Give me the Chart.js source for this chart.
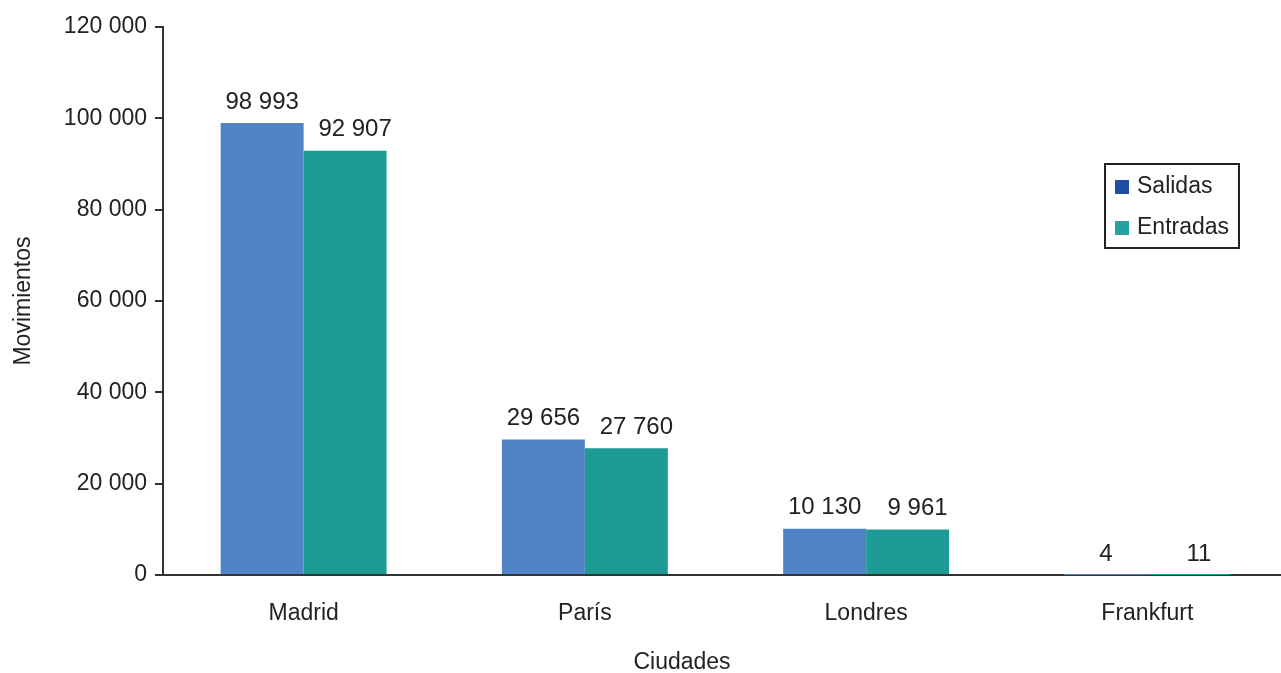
<!DOCTYPE html>
<html><head><meta charset="utf-8">
<script src="https://cdn.jsdelivr.net/npm/chart.js@4"></script>
<style>html,body{margin:0;padding:0;background:#fff;overflow:hidden}#wrap{width:1288px;height:673px;position:relative}</style>
</head><body><div id="wrap"><canvas id="c"></canvas></div>
<script>
const categories = ['Madrid', 'París', 'Londres', 'Frankfurt'];
const salidas = [98993, 29656, 10130, 4];
const entradas = [92907, 27760, 9961, 11];
const seriesNames = ['Salidas', 'Entradas'];
const yTicks = [0, 20000, 40000, 60000, 80000, 100000, 120000];
const xTitle = 'Ciudades';

const fmt = v => String(v).replace(/\B(?=(\d{3})+(?!\d))/g, ' ');
const FONT = '"Liberation Sans", Arial, sans-serif';

const labelPlugin = {
  id: 'labels',
  afterDatasetsDraw(chart) {
    const ctx = chart.ctx;
    ctx.save();
    ctx.font = '24px ' + FONT;
    ctx.fillStyle = '#222';
    ctx.textAlign = 'center';
    ctx.textBaseline = 'bottom';
    chart.data.datasets.forEach((ds, i) => {
      const meta = chart.getDatasetMeta(i);
      meta.data.forEach((bar, j) => {
        const dx = i === 1 ? 10 : 0;
        ctx.fillText(fmt(ds.data[j]), bar.x + dx, bar.y - 9);
      });
    });
    ctx.restore();
  }
};

const legendPlugin = {
  id: 'boxLegend',
  afterDraw(chart) {
    const ctx = chart.ctx;
    const x = 1105, y = 164, w = 134, h = 84;
    ctx.save();
    ctx.strokeStyle = '#222';
    ctx.lineWidth = 2;
    ctx.strokeRect(x, y, w, h);
    const sw = ['#1f4fa3', '#25a09c'];
    ctx.font = '23px ' + FONT;
    ctx.textBaseline = 'middle';
    seriesNames.forEach((n, i) => {
      const cy = y + 23 + i * 41;
      ctx.fillStyle = sw[i];
      ctx.fillRect(x + 10, cy - 7, 14, 14);
      ctx.fillStyle = '#222';
      ctx.fillText(n, x + 32, cy);
    });
    // x axis title
    ctx.font = '23px ' + FONT;
    ctx.textAlign = 'center';
    ctx.fillText(xTitle, 682, 663);
    ctx.restore();
  }
};

new Chart(document.getElementById('c'), {
  type: 'bar',
  data: {
    labels: categories,
    datasets: [
      { label: seriesNames[0], data: salidas, backgroundColor: '#5084c6' },
      { label: seriesNames[1], data: entradas, backgroundColor: '#1e9b96' }
    ]
  },
  options: {
    responsive: true,
    maintainAspectRatio: false,
    animation: false,
    layout: { padding: { top: 27, left: 0, right: 0, bottom: 0 } },
    datasets: { bar: { categoryPercentage: 0.59, barPercentage: 1.0, borderWidth: 0 } },
    plugins: { legend: { display: false }, tooltip: { enabled: false } },
    scales: {
      x: {
        grid: { display: false, drawTicks: false },
        border: { color: '#333', width: 2 },
        ticks: { color: '#222', font: { family: FONT, size: 23 }, padding: 25 },
        afterFit(s) { s.height = 98; }
      },
      y: {
        min: 0, max: 120000,
        afterBuildTicks(s) { s.ticks = yTicks.map(v => ({ value: v })); },
        grid: { display: true, drawOnChartArea: false, drawTicks: true, tickLength: 8, color: '#333', lineWidth: 2 },
        border: { color: '#333', width: 2 },
        ticks: { color: '#222', font: { family: FONT, size: 23 }, padding: 8, callback: v => fmt(v) },
        title: { display: true, text: 'Movimientos', color: '#222', font: { family: FONT, size: 23 }, padding: { top: 10, bottom: 6 } },
        afterFit(s) { s.width = 163; }
      }
    }
  },
  plugins: [labelPlugin, legendPlugin]
});
</script></body></html>
